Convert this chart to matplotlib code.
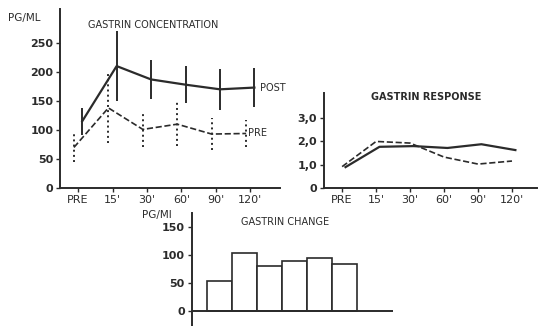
import numpy as np
import matplotlib.pyplot as plt

plt.rcParams['font.family'] = ['DejaVu Sans']

# time points
labels = ['PRE', "15'", "30'", "60'", "90'", "120'"]

# gastrin concentration (pg/ml), mean and error
post_mean = [115, 210, 187, 178, 170, 173]
post_err = [23, 60, 33, 32, 35, 34]
pre_mean = [70, 138, 101, 110, 93, 94]
pre_err = [25, 60, 31, 38, 27, 23]

# gastrin response (ratio)
resp_post = [0.9, 1.77, 1.8, 1.72, 1.88, 1.63]
resp_pre = [0.92, 2.0, 1.93, 1.33, 1.03, 1.16]

# gastrin change (pg/ml)
change = [54, 103, 81, 89, 94, 83]

ink = '#2b2b2b'
x = np.arange(len(labels))

fig = plt.figure(figsize=(5.42, 3.26), dpi=100)

# --- gastrin concentration ---
ax1 = fig.add_axes([0.111, 0.423, 0.406, 0.549])
ax1.errorbar(x + 0.12, post_mean, yerr=post_err, color=ink, lw=1.6,
             elinewidth=1.4, capsize=0)
eb2 = ax1.errorbar(x - 0.12, pre_mean, yerr=pre_err, color=ink, lw=1.2,
                   ls='--', elinewidth=1.4, capsize=0)
eb2[2][0].set_linestyle(':')
ax1.set_xlim(-0.52, 5.87)
ax1.set_ylim(0, 308)
ax1.set_xticks(x)
ax1.set_xticklabels(labels)
ax1.set_yticks([0, 50, 100, 150, 200, 250])
ax1.text(5.29, 172, 'POST', fontsize=7, color=ink, va='center')
ax1.text(4.94, 95, 'PRE', fontsize=7, color=ink, va='center')

# --- gastrin response ---
ax2 = fig.add_axes([0.598, 0.423, 0.393, 0.292])
ax2.plot(x + 0.1, resp_post, color=ink, lw=1.6)
ax2.plot(x, resp_pre, color=ink, lw=1.2, ls='--')
ax2.set_xlim(-0.53, 5.74)
ax2.set_ylim(0, 4.08)
ax2.set_xticks(x)
ax2.set_xticklabels(labels)
ax2.set_yticks([0, 1, 2, 3])
ax2.set_yticklabels(['0', '1,0', '2,0', '3,0'])

# --- gastrin change ---
ax3 = fig.add_axes([0.354, 0.0, 0.371, 0.347])
ax3.bar(x, change, width=1, align='edge', color='white', edgecolor=ink, lw=1.2)
ax3.axhline(0, color=ink, lw=1.4)
ax3.set_xlim(-0.6, 7.44)
ax3.set_ylim(-27, 175)
ax3.set_xticks([])
ax3.set_yticks([0, 50, 100, 150])
ax3.spines['bottom'].set_visible(False)

for ax in (ax1, ax2, ax3):
    for s in ('top', 'right'):
        ax.spines[s].set_visible(False)
    for s in ('left', 'bottom'):
        ax.spines[s].set_color(ink)
        ax.spines[s].set_linewidth(1.4)
    ax.tick_params(colors=ink, labelsize=8, length=3, width=1, pad=2)
    for t in ax.get_yticklabels():
        t.set_fontweight('bold')

fig.text(0.015, 0.945, 'PG/ML', fontsize=7.5, color=ink, va='center')
fig.text(0.162, 0.923, 'GASTRIN CONCENTRATION', fontsize=7, color=ink,
         va='center')
fig.text(0.786, 0.702, 'GASTRIN RESPONSE', fontsize=7, color=ink, va='center',
         ha='center', fontweight='bold')
fig.text(0.262, 0.34, 'PG/MI', fontsize=7.5, color=ink, va='center')
fig.text(0.526, 0.319, 'GASTRIN CHANGE', fontsize=7, color=ink, va='center',
         ha='center')

fig.savefig('out.png', dpi=100)
